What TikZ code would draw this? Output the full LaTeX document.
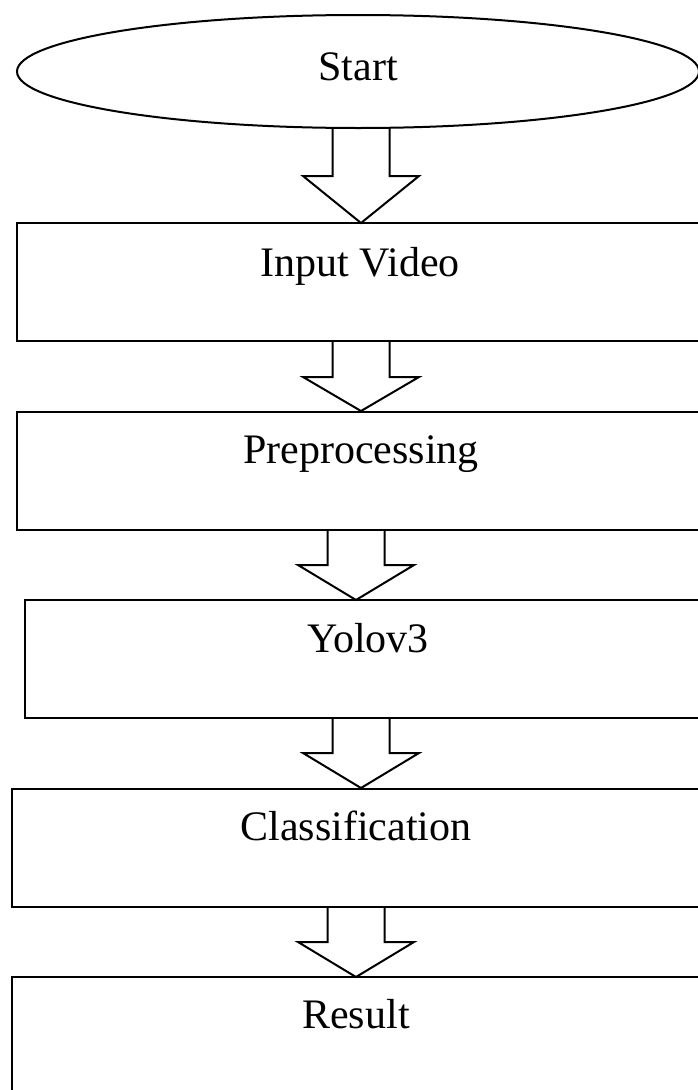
\documentclass[tikz,border=0pt]{standalone}
\usepackage{fontspec}
\setmainfont{Liberation Serif}
\usetikzlibrary{shapes.geometric}
\tikzset{
  frame/.style={draw=black, line width=2pt},
  boxnode/.style={frame, rectangle, inner sep=0pt, outer sep=0pt},
  lbl/.style={anchor=base, inner sep=0pt, font=\fontsize{42}{50}\selectfont},
  blockarr/.style={draw=black, line width=2pt, line join=miter}
}
\newcommand{\barrow}[4]{% cx, ytop, ybase, ytip
  \draw[blockarr] (#1-28.5,#2) -- (#1-28.5,#3) -- (#1-58,#3) -- (#1,#4) -- (#1+58,#3) -- (#1+28.5,#3) -- (#1+28.5,#2);
}
\begin{document}
\begin{tikzpicture}[x=1pt,y=-1pt]
\useasboundingbox (0,0) rectangle (698,1090);
\fill[white] (0,0) rectangle (698,1090);
\clip (0,0) rectangle (698,1090);
% start ellipse
\node[frame, ellipse, inner sep=0pt, minimum width=682pt, minimum height=113pt] (start) at (358,71.5) {};
\node[lbl] (startt) at (358,80) {Start};
% boxes
\node[boxnode, minimum width=688pt, minimum height=118pt] (b1) at (361,282) {};
\node[lbl] (t1) at (360,276) {Input Video};
\node[boxnode, minimum width=688pt, minimum height=118pt] (b2) at (361,471) {};
\node[lbl] (t2) at (361,463) {Preprocessing};
\node[boxnode, minimum width=680.5pt, minimum height=118pt] (b3) at (364.75,659) {};
\node[lbl] (t3) at (368,652) {Yolov3};
\node[boxnode, minimum width=693pt, minimum height=118pt] (b4) at (358.5,848) {};
\node[lbl] (t4) at (356,840) {Classification};
\node[boxnode, minimum width=693pt, minimum height=123pt] (b5) at (358.5,1038.5) {};
\node[lbl] (t5) at (356,1028) {Result};
% block arrows
\barrow{361}{128}{176}{223}
\barrow{361}{341}{377}{411}
\barrow{356}{530}{565}{600}
\barrow{361}{718}{753}{788}
\barrow{356}{907}{942}{977}
\end{tikzpicture}
\end{document}
